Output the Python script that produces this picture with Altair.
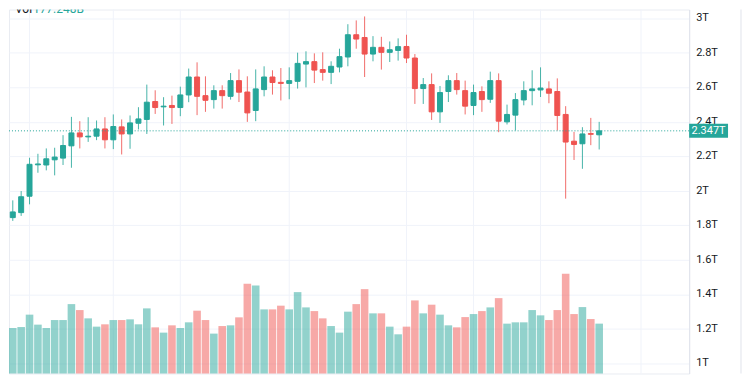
import altair as alt
import numpy as np
import pandas as pd

# ---------------- data ----------------
opens = [1.844, 1.873, 1.968, 2.150, 2.149, 2.179, 2.189, 2.260, 2.335, 2.312,
         2.316, 2.358, 2.295, 2.370, 2.329, 2.391, 2.413, 2.517, 2.486, 2.494,
         2.482, 2.555, 2.659, 2.551, 2.528, 2.580, 2.547, 2.638, 2.572, 2.465,
         2.586, 2.659, 2.628, 2.622, 2.634, 2.734, 2.748, 2.702, 2.686, 2.717,
         2.775, 2.904, 2.888, 2.792, 2.831, 2.802, 2.813, 2.836, 2.769, 2.592,
         2.615, 2.457, 2.575, 2.638, 2.580, 2.494, 2.575, 2.530, 2.638, 2.399,
         2.438, 2.526, 2.580, 2.584, 2.590, 2.575, 2.442, 2.287, 2.272, 2.331,
         2.324]
highs = [1.944, 1.998, 2.191, 2.214, 2.245, 2.249, 2.322, 2.428, 2.403, 2.426,
         2.407, 2.426, 2.442, 2.413, 2.436, 2.484, 2.615, 2.582, 2.542, 2.551,
         2.603, 2.708, 2.744, 2.663, 2.611, 2.611, 2.682, 2.703, 2.663, 2.703,
         2.721, 2.698, 2.711, 2.715, 2.800, 2.808, 2.796, 2.802, 2.750, 2.823,
         2.965, 2.987, 3.010, 2.896, 2.892, 2.865, 2.883, 2.904, 2.792, 2.653,
         2.680, 2.607, 2.669, 2.682, 2.638, 2.615, 2.605, 2.690, 2.680, 2.499,
         2.566, 2.634, 2.698, 2.715, 2.634, 2.651, 2.490, 2.341, 2.368, 2.422,
         2.399]
lows = [1.825, 1.854, 1.921, 2.104, 2.118, 2.089, 2.149, 2.133, 2.245, 2.283,
        2.293, 2.245, 2.241, 2.210, 2.243, 2.355, 2.329, 2.445, 2.378, 2.387,
        2.432, 2.513, 2.438, 2.457, 2.476, 2.476, 2.528, 2.514, 2.399, 2.403,
        2.547, 2.557, 2.523, 2.530, 2.592, 2.599, 2.624, 2.638, 2.618, 2.686,
        2.721, 2.823, 2.659, 2.750, 2.702, 2.746, 2.754, 2.740, 2.503, 2.503,
        2.410, 2.393, 2.514, 2.557, 2.442, 2.438, 2.457, 2.509, 2.339, 2.384,
        2.349, 2.495, 2.495, 2.543, 2.507, 2.349, 1.954, 2.178, 2.127, 2.264,
        2.239]
closes = [1.877, 1.965, 2.153, 2.155, 2.185, 2.195, 2.262, 2.335, 2.312, 2.316,
          2.358, 2.295, 2.372, 2.329, 2.393, 2.416, 2.513, 2.482, 2.490, 2.482,
          2.555, 2.659, 2.547, 2.524, 2.580, 2.551, 2.638, 2.571, 2.451, 2.590,
          2.659, 2.627, 2.622, 2.638, 2.738, 2.748, 2.699, 2.686, 2.721, 2.777,
          2.904, 2.879, 2.792, 2.831, 2.802, 2.817, 2.835, 2.769, 2.592, 2.615,
          2.457, 2.569, 2.638, 2.586, 2.490, 2.569, 2.528, 2.638, 2.403, 2.442,
          2.528, 2.580, 2.590, 2.595, 2.565, 2.436, 2.282, 2.268, 2.329, 2.327,
          2.347]
volumes_b = [161.7, 165.2, 209.2, 173.7, 161.7, 190.0, 190.0, 246.7, 225.5, 196.0,
             166.6, 174.8, 190.0, 190.0, 192.5, 174.8, 231.5, 164.1, 145.3, 171.2,
             161.7, 181.9, 223.3, 190.0, 141.8, 168.7, 171.2, 199.6, 319.1, 313.0,
             227.9, 227.9, 241.1, 227.9, 289.3, 235.0, 221.9, 196.0, 168.7, 145.3,
             219.8, 246.7, 299.9, 213.8, 213.8, 166.6, 139.3, 166.6, 259.8, 213.8,
             244.6, 209.2, 171.2, 164.1, 200.6, 211.3, 221.9, 235.0, 268.0, 177.2,
             181.9, 181.9, 225.5, 206.7, 190.0, 225.5, 354.5, 211.3, 236.1, 193.6,
             177.248]
grid_candles = [3, 13, 21, 34, 48, 56, 64, 76]
price_ticks = [1.0, 1.2, 1.4, 1.6, 1.8, 2.0, 2.2, 2.4, 2.6, 2.8, 3.0]
tick_labels = ["1T", "1.2T", "1.4T", "1.6T", "1.8T", "2T", "2.2T", "2.4T",
               "2.6T", "2.8T", "3T"]
last_price = 2.347
last_volume = 177.248

# ---------------- layout / style ----------------
UP = "#26a69a"
DOWN = "#ef5350"
GRID = "#f0f3fa"
FONT = "Roboto"
W, H = 682, 365
X_DOM = [0.548, 81.74]
Y_DOM = [0.9405, 3.0503]
PX_PER_UNIT = H / (Y_DOM[1] - Y_DOM[0])
VOL_DOM = [0, H * 3.545]

n = len(opens)
df = pd.DataFrame({
    "idx": np.arange(1, n + 1),
    "open": opens, "high": highs, "low": lows, "close": closes,
    "vol": volumes_b,
})
df["dir"] = np.where(df["close"] >= df["open"], "up", "down")
df["body_lo"] = df[["open", "close"]].min(axis=1)
df["body_hi"] = df[["open", "close"]].max(axis=1)

xs = alt.Scale(domain=X_DOM, nice=False, zero=False, padding=0)
cs = alt.Scale(domain=["up", "down"], range=[UP, DOWN])
ys = alt.Scale(domain=Y_DOM, nice=False, zero=False, padding=0)
yaxis = alt.Axis(
    orient="right", values=price_ticks, labels=False,
    grid=True, gridColor=GRID, gridWidth=1,
    domain=True, domainColor="#e0e3eb", ticks=False, title=None)

base = alt.Chart(df)

vgrid = alt.Chart(pd.DataFrame({"g": grid_candles})).mark_rule(
    color=GRID, strokeWidth=1
).encode(x=alt.X("g:Q", scale=xs, axis=None))

volume = base.mark_bar(width=7.6, opacity=0.5).encode(
    x=alt.X("idx:Q", scale=xs, axis=None),
    y=alt.Y("vol:Q", scale=alt.Scale(domain=VOL_DOM, nice=False, padding=0),
            axis=None),
    color=alt.Color("dir:N", scale=cs, legend=None),
)

wick = base.mark_rule(strokeWidth=1, opacity=0.85).encode(
    x=alt.X("idx:Q", scale=xs, axis=None),
    y=alt.Y("low:Q", scale=ys, axis=yaxis),
    y2="high:Q",
    color=alt.Color("dir:N", scale=cs, legend=None),
)

body = base.mark_bar(width=5, strokeWidth=1).encode(
    x=alt.X("idx:Q", scale=xs, axis=None),
    y=alt.Y("body_lo:Q", scale=ys, axis=yaxis),
    y2="body_hi:Q",
    fill=alt.Fill("dir:N", scale=cs, legend=None),
    stroke=alt.Stroke("dir:N", scale=cs, legend=None),
)

tick_df = pd.DataFrame({"v": price_ticks, "lab": tick_labels})
tick_text = alt.Chart(tick_df).mark_text(
    font=FONT, fontSize=11, color="#131722", align="left", baseline="middle"
).encode(x=alt.value(W + 7), y=alt.Y("v:Q", scale=ys, axis=yaxis),
         text="lab:N")

last_line = alt.Chart(pd.DataFrame({"p": [last_price]})).mark_rule(
    color=UP, strokeWidth=1, strokeDash=[1, 2]
).encode(y=alt.Y("p:Q", scale=ys, axis=yaxis))

half = 7.0 / PX_PER_UNIT
box_df = pd.DataFrame({"p": [last_price], "lo": [last_price - half],
                       "hi": [last_price + half],
                       "label": [f"{last_price}T"]})
box = alt.Chart(box_df).mark_rect(color=UP).encode(
    x=alt.value(W), x2=alt.value(W + 39),
    y=alt.Y("hi:Q", scale=ys, axis=yaxis), y2="lo:Q",
)
box_text = alt.Chart(box_df).mark_text(
    color="white", font=FONT, fontSize=11, align="center", baseline="middle"
).encode(x=alt.value(W + 19.5), y=alt.Y("p:Q", scale=ys, axis=yaxis),
         text="label:N")

right_border = alt.Chart(box_df).mark_rule(color="#e0e3eb").encode(
    x=alt.value(W + 52), y=alt.value(0), y2=alt.value(H))

vol_lbl = alt.Chart(pd.DataFrame({"t": ["Vol"], "v": [f"{last_volume}B"]}))
vol_word = vol_lbl.mark_text(
    font=FONT, fontSize=12, color="#131722", align="left",
    baseline="alphabetic", clip=True
).encode(x=alt.value(6), y=alt.value(4), text="t:N")
vol_val = vol_lbl.mark_text(
    font=FONT, fontSize=12, color=UP, align="left",
    baseline="alphabetic", clip=True
).encode(x=alt.value(24), y=alt.value(4), text="v:N")

price = alt.layer(wick, body, last_line, tick_text, box, box_text,
                  right_border, vol_word, vol_val)

chart = alt.layer(vgrid, volume, price).resolve_scale(
    y="independent"
).properties(
    width=W, height=H,
    padding={"left": 0, "top": 0, "right": 0, "bottom": 0},
    background="white",
).configure_view(stroke="#e9ecf2")

chart.save("out.html", embed_options={"renderer": "svg", "actions": False})
